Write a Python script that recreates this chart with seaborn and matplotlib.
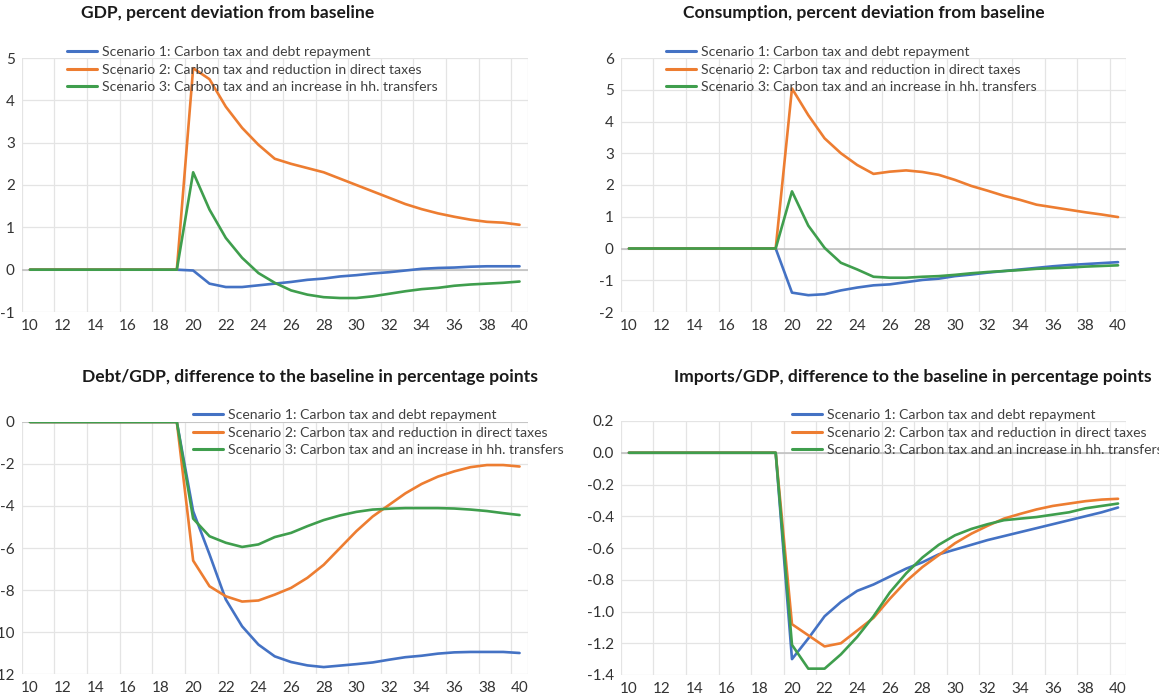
import matplotlib
matplotlib.use("Agg")
import matplotlib.pyplot as plt
import numpy as np
import pandas as pd
import seaborn as sns

# ---------------- data ----------------
years = list(range(10, 41))
x_tick_years = list(range(10, 41, 2))

scenario_labels = [
    "Scenario 1: Carbon tax and debt repayment",
    "Scenario 2: Carbon tax and reduction in direct taxes",
    "Scenario 3: Carbon tax and an increase in hh. transfers",
]
line_colors = ["#4472C4", "#ED7D31", "#3F9E4D"]

pre = [0.0] * 10  # years 10..19

gdp_s1 = pre + [-0.02, -0.33, -0.41, -0.41, -0.37, -0.33, -0.29, -0.24, -0.21, -0.16, -0.13,
                -0.09, -0.06, -0.02, 0.02, 0.04, 0.05, 0.07, 0.08, 0.08, 0.08]
gdp_s2 = pre + [4.76, 4.50, 3.85, 3.35, 2.95, 2.62, 2.50, 2.40, 2.30, 2.15, 2.00,
                1.85, 1.70, 1.55, 1.43, 1.33, 1.25, 1.18, 1.13, 1.11, 1.06]
gdp_s3 = pre + [2.30, 1.42, 0.75, 0.28, -0.08, -0.31, -0.49, -0.59, -0.65, -0.67, -0.67,
                -0.63, -0.57, -0.51, -0.46, -0.43, -0.38, -0.35, -0.33, -0.31, -0.28]

cons_s1 = pre + [-1.39, -1.47, -1.44, -1.32, -1.23, -1.16, -1.13, -1.06, -0.99, -0.95, -0.87,
                 -0.82, -0.76, -0.71, -0.66, -0.61, -0.56, -0.52, -0.49, -0.46, -0.43]
cons_s2 = pre + [5.04, 4.20, 3.47, 3.00, 2.63, 2.35, 2.42, 2.46, 2.41, 2.32, 2.16,
                 1.97, 1.82, 1.66, 1.53, 1.38, 1.30, 1.22, 1.14, 1.07, 0.99]
cons_s3 = pre + [1.80, 0.72, 0.02, -0.45, -0.66, -0.89, -0.92, -0.92, -0.89, -0.87, -0.83,
                 -0.78, -0.74, -0.71, -0.68, -0.64, -0.62, -0.60, -0.57, -0.55, -0.53]

debt_s1 = pre + [-4.25, -6.30, -8.45, -9.73, -10.60, -11.16, -11.43, -11.59, -11.67, -11.60, -11.53,
                 -11.45, -11.32, -11.20, -11.13, -11.03, -10.97, -10.95, -10.95, -10.95, -11.00]
debt_s2 = pre + [-6.60, -7.82, -8.30, -8.55, -8.50, -8.22, -7.90, -7.42, -6.80, -6.00, -5.20,
                 -4.50, -3.95, -3.40, -2.95, -2.60, -2.35, -2.15, -2.05, -2.05, -2.12]
debt_s3 = pre + [-4.60, -5.44, -5.75, -5.95, -5.83, -5.48, -5.28, -4.96, -4.67, -4.45, -4.28,
                 -4.17, -4.13, -4.10, -4.10, -4.10, -4.12, -4.17, -4.24, -4.34, -4.43]

imp_s1 = pre + [-1.30, -1.17, -1.03, -0.94, -0.87, -0.83, -0.78, -0.73, -0.69, -0.64, -0.61,
                -0.58, -0.55, -0.525, -0.50, -0.475, -0.45, -0.425, -0.40, -0.375, -0.345]
imp_s2 = pre + [-1.08, -1.15, -1.22, -1.20, -1.12, -1.04, -0.92, -0.81, -0.72, -0.645, -0.57,
                -0.51, -0.46, -0.415, -0.385, -0.357, -0.335, -0.32, -0.305, -0.295, -0.29]
imp_s3 = pre + [-1.21, -1.36, -1.36, -1.27, -1.16, -1.03, -0.88, -0.76, -0.66, -0.58, -0.52,
                -0.48, -0.45, -0.425, -0.415, -0.405, -0.39, -0.375, -0.35, -0.335, -0.32]

titles = [
    "GDP, percent deviation from baseline",
    "Consumption, percent deviation from baseline",
    "Debt/GDP, difference to the baseline in percentage points",
    "Imports/GDP, difference to the baseline in percentage points",
]

gdp_yticks = [-1, 0, 1, 2, 3, 4, 5]
gdp_ylabels = ["-1", "0", "1", "2", "3", "4", "5"]
cons_yticks = [-2, -1, 0, 1, 2, 3, 4, 5, 6]
cons_ylabels = ["-2", "-1", "0", "1", "2", "3", "4", "5", "6"]
debt_yticks = [-12, -10, -8, -6, -4, -2, 0]
debt_ylabels = ["-12", "-10", "-8", "-6", "-4", "-2", "0"]
imp_yticks = [-1.4, -1.2, -1.0, -0.8, -0.6, -0.4, -0.2, 0.0, 0.2]
imp_ylabels = ["-1.4", "-1.2", "-1.0", "-0.8", "-0.6", "-0.4", "-0.2", "0.0", "0.2"]

# ---------------- style ----------------
sns.set_style("white")
plt.rcParams["font.family"] = ["Lato", "DejaVu Sans"]
plt.rcParams["axes.unicode_minus"] = False

W, H = 1159, 698
fig = plt.figure(figsize=(W / 100, H / 100), dpi=100)
fig.patch.set_facecolor("white")


def px_axes(left, top, right, bottom):
    return fig.add_axes([left / W, 1 - bottom / H, (right - left) / W, (bottom - top) / H])


panels = [
    dict(series=[gdp_s1, gdp_s2, gdp_s3], box=(21.8, 58, 527.7, 312),
         yticks=gdp_yticks, ylabels=gdp_ylabels, title=titles[0],
         title_xy=(228, 13), title_ha="center", leg_xy=(67, 46)),
    dict(series=[cons_s1, cons_s2, cons_s3], box=(620.8, 58, 1126.2, 312),
         yticks=cons_yticks, ylabels=cons_ylabels, title=titles[1],
         title_xy=(864, 13), title_ha="center", leg_xy=(666, 46)),
    dict(series=[debt_s1, debt_s2, debt_s3], box=(21.8, 422, 527.7, 674),
         yticks=debt_yticks, ylabels=debt_ylabels, title=titles[2],
         title_xy=(310, 377), title_ha="center", leg_xy=(193, 409)),
    dict(series=[imp_s1, imp_s2, imp_s3], box=(620.8, 421, 1126.2, 675),
         yticks=imp_yticks, ylabels=imp_ylabels, title=titles[3],
         title_xy=(674, 377), title_ha="left", leg_xy=(792, 409)),
]

grid_x = list(np.arange(9.5, 40, 2)) + [40.5]

for p in panels:
    ax = px_axes(*p["box"])
    rows = []
    for lab, vals in zip(scenario_labels, p["series"]):
        for yr, v in zip(years, vals):
            rows.append((yr, v, lab))
    df = pd.DataFrame(rows, columns=["year", "value", "scenario"])
    sns.lineplot(data=df, x="year", y="value", hue="scenario", hue_order=scenario_labels,
                 palette=line_colors, linewidth=1.9, ax=ax, legend=True, zorder=3)

    ax.set_xlim(9.5, 40.5)
    ax.set_ylim(p["yticks"][0], p["yticks"][-1])
    ax.set_yticks(p["yticks"])
    ax.set_yticklabels(p["ylabels"])
    ax.set_xticks(x_tick_years)
    ax.set_xticklabels([str(y) for y in x_tick_years])
    ax.set_xticks(grid_x, minor=True)
    ax.set_axisbelow(True)
    ax.grid(False)
    ax.yaxis.grid(True, which="major", color="#E4E4E4", linewidth=0.9)
    ax.xaxis.grid(True, which="minor", color="#E4E4E4", linewidth=0.9)
    ax.axhline(0, color="#BDBDBD", linewidth=1.1, zorder=2)
    for s in ax.spines.values():
        s.set_visible(False)
    ax.tick_params(which="both", length=0, labelsize=11, colors="#333333")
    ax.tick_params(axis="y", pad=5)
    ax.tick_params(axis="x", pad=5)
    ax.set_xlabel("")
    ax.set_ylabel("")

    handles, labels = ax.get_legend_handles_labels()
    lx, ly = p["leg_xy"]
    leg = ax.legend(handles, labels, loc="upper left", bbox_to_anchor=(lx / W, 1 - ly / H),
                    bbox_transform=fig.transFigure, frameon=False, borderpad=0,
                    borderaxespad=0, handlelength=2.15, handletextpad=0.36,
                    labelspacing=0.4, fontsize=10.1)
    for t in leg.get_texts():
        t.set_color("#404040")
    for h in leg.get_lines():
        h.set_linewidth(2.2)

    tx, ty = p["title_xy"]
    fig.text(tx / W, 1 - ty / H, p["title"], ha=p["title_ha"], va="center",
             fontsize=12.6, fontweight="bold", color="#1A1A1A")

fig.savefig("out.png", dpi=100, facecolor="white")
